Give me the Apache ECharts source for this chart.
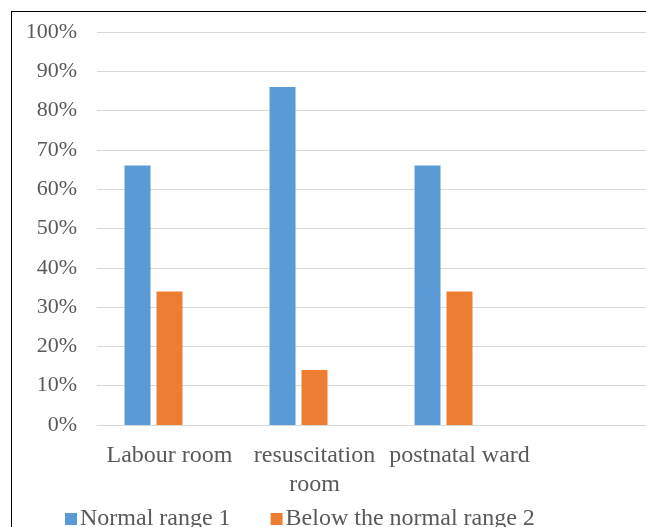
<!DOCTYPE html>
<html>
<head>
<meta charset="utf-8">
<script src="https://cdn.jsdelivr.net/npm/echarts@6/dist/echarts.min.js"></script>
<style>
html,body{margin:0;padding:0;background:#fff;overflow:hidden;}
#wrap{position:relative;width:646px;height:527px;overflow:hidden;}
#chart{width:646px;height:527px;}
#frame{position:absolute;left:11px;top:11px;width:700px;height:600px;border-left:1px solid #000;border-top:1px solid #000;pointer-events:none;}
</style>
</head>
<body>
<div id="wrap"><div id="chart"></div><div id="frame"></div></div>
<script>
var categories = ['Labour room', 'resuscitation\nroom', 'postnatal ward', ''];
var normalRange = [66, 86, 66, null];
var belowNormal = [34, 14, 34, null];
var yTicks = [0, 10, 20, 30, 40, 50, 60, 70, 80, 90, 100];

var font = 'Liberation Serif';
var chart = echarts.init(document.getElementById('chart'));
chart.setOption({
  animation: false,
  textStyle: {fontFamily: font},
  legend: {
    data: ['Normal range 1', 'Below the normal range 2'],
    left: 60,
    top: 502,
    icon: 'rect',
    itemWidth: 12,
    itemHeight: 12,
    itemGap: 40,
    textStyle: {fontFamily: font, fontSize: 24, color: '#595959', padding: [0, 0, 0, -2]}
  },
  grid: {left: 97, width: 580, top: 32, height: 393, containLabel: false, outerBoundsMode: 'none'},
  xAxis: {
    type: 'category',
    data: categories,
    axisLine: {show: true, lineStyle: {color: '#D9D9D9'}},
    axisTick: {show: false},
    axisLabel: {fontFamily: font, fontSize: 24, color: '#595959', margin: 16, lineHeight: 29, interval: 0}
  },
  yAxis: {
    type: 'value',
    min: yTicks[0],
    max: yTicks[yTicks.length - 1],
    interval: 10,
    axisLine: {show: false},
    axisTick: {show: false},
    splitLine: {lineStyle: {color: '#D9D9D9', width: 1}},
    axisLabel: {fontFamily: font, fontSize: 22, color: '#595959', margin: 20, formatter: '{value}%'}
  },
  series: [
    {name: 'Normal range 1', type: 'bar', data: normalRange, barWidth: 26, barGap: '23%', barCategoryGap: '38%', itemStyle: {color: '#5B9BD5'}},
    {name: 'Below the normal range 2', type: 'bar', data: belowNormal, barWidth: 26, barGap: '23%', itemStyle: {color: '#ED7D31'}},
    {name: 'hidden', type: 'bar', data: [null, null, null, null], barWidth: 26, barGap: '23%', itemStyle: {color: 'transparent'}}
  ]
});
</script>
</body>
</html>
